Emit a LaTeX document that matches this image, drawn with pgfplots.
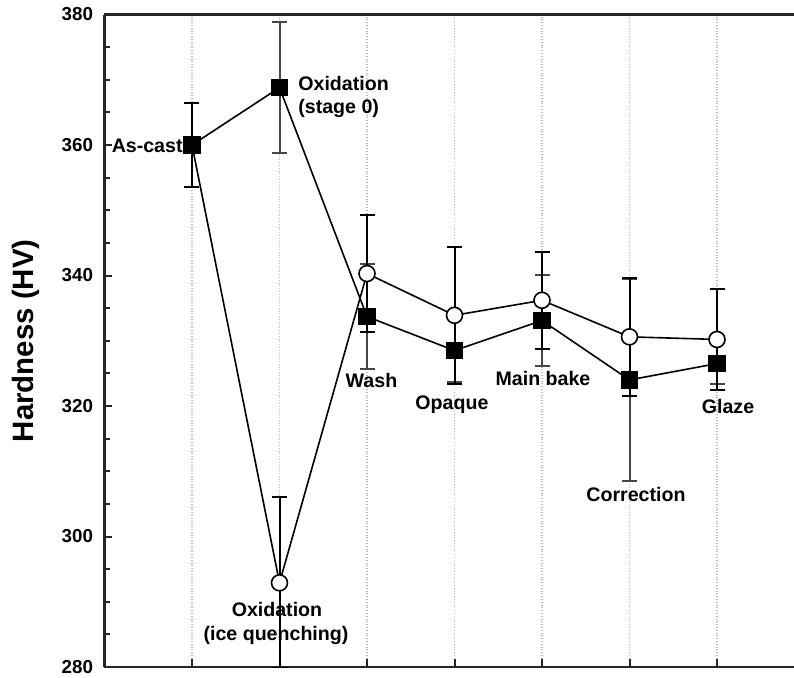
\documentclass[border=0pt]{standalone}
\usepackage{pgfplots}
\pgfplotsset{compat=1.18}
\usepackage{fontspec}
\setmainfont{Liberation Sans}
\begin{document}
\begin{tikzpicture}
\path[use as bounding box] (0,0) rectangle (397pt,338.5pt);
\begin{axis}[
  at={(52.25pt,5pt)}, anchor=south west, scale only axis,
  width=344.75pt, height=326.25pt,
  xmin=0, xmax=7.88, ymin=280, ymax=380,
  axis x line=box, axis y line=left,
  axis line style={-, line width=1.3pt, black!85},
  tick align=inside, xtick pos=left, ytick pos=left,
  xtick={1,2,3,4,5,6,7}, xticklabels={},
  ytick={280,300,320,340,360,380}, minor y tick num=3,
  major tick length=4pt, minor tick length=3pt,
  every tick/.style={line width=1pt, black!85},
  xmajorgrids, grid style={densely dotted, gray!55, line width=0.6pt},
  /pgf/number format/assume math mode=true,
  yticklabel style={font=\bfseries\fontsize{9.4}{10}\selectfont, inner sep=0pt, xshift=-5.5pt},
  ylabel={Hardness (HV)},
  ylabel style={at={(axis description cs:-0.1138,0.5)}, anchor=center, font=\bfseries\fontsize{14.7}{16}\selectfont},
  clip=true,
]
\addplot[black, line width=0.8pt, mark=square*, mark size=4pt, mark options={solid, fill=black},
  error bars/.cd, y dir=both, y explicit,
  error bar style={line width=1pt, gray!55!black},
  error mark options={rotate=90, mark size=3.75pt, line width=1pt, gray!55!black}]
  table[x=x, y=y, y error=e] {
x y e
1 360.0 6.4
2 368.8 10.0
3 333.7 8.0
4 328.5 4.8
5 333.1 7.0
6 324.0 15.5
7 326.5 3.1
};
\addplot[black, line width=0.8pt, mark=*, mark size=4pt, mark indices={2,3,4,5,6,7},
  mark options={solid, fill=white, line width=0.8pt},
  error bars/.cd, y dir=both, y explicit,
  error bar style={line width=1pt, black},
  error mark options={rotate=90, mark size=3.75pt, line width=1pt, black}]
  table[x=x, y=y, y error=e] {
x y e
1 360.0 6.4
2 292.9 13.1
3 340.3 9.0
4 333.9 10.5
5 336.2 7.4
6 330.6 9.0
7 330.2 7.7
};
\begin{scope}[every node/.style={font=\bfseries\fontsize{9.8}{11.8}\selectfont, inner sep=0pt, text=black}]
\node[anchor=base east] at (axis cs:0.897,358.9) {As-cast};
\node[anchor=base west] at (axis cs:2.211,368.4) {Oxidation};
\node[anchor=base west] at (axis cs:2.211,364.9) {(stage 0)};
\node[anchor=base] at (axis cs:1.971,287.67) {Oxidation};
\node[anchor=base] at (axis cs:1.96,284.03) {(ice quenching)};
\node[anchor=base] at (axis cs:3.051,322.9) {Wash};
\node[anchor=base] at (axis cs:3.971,319.4) {Opaque};
\node[anchor=base] at (axis cs:5.011,323.1) {Main bake};
\node[anchor=base] at (axis cs:6.074,305.4) {Correction};
\node[anchor=base] at (axis cs:7.126,318.8) {Glaze};
\end{scope}
\end{axis}
\end{tikzpicture}
\end{document}
